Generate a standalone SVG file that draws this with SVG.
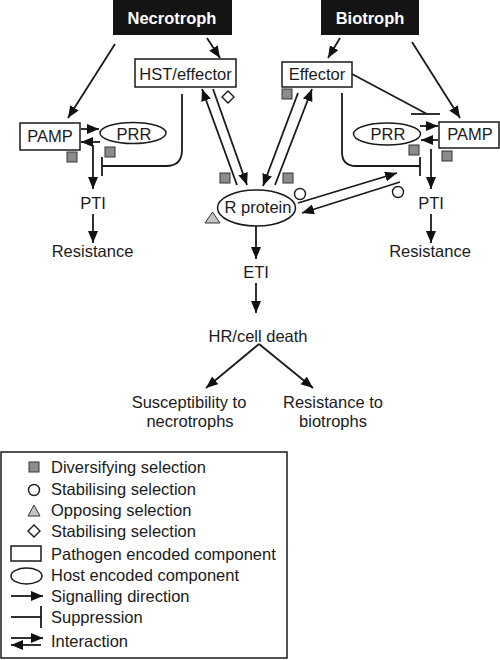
<svg xmlns="http://www.w3.org/2000/svg" width="500" height="660" viewBox="0 0 500 660">
<defs>
<marker id="ah" markerUnits="userSpaceOnUse" markerWidth="13" markerHeight="11" refX="12" refY="5" orient="auto">
<path d="M0,0 L12,5 L0,10 z" fill="#111"/>
</marker>
<style>
text{font-family:"Liberation Sans",Arial,sans-serif;font-size:16.5px;fill:#1a1a1a}
.t{text-anchor:middle}
.hd{font-weight:bold;fill:#fff;text-anchor:middle;font-size:16.5px}
.box{fill:#fff;stroke:#1a1a1a;stroke-width:1.5}
.dark{fill:#141414}
.ln{fill:none;stroke:#1a1a1a;stroke-width:1.8}
.ar{fill:none;stroke:#1a1a1a;stroke-width:1.8;marker-end:url(#ah)}
.sq{fill:#8c8c8c;stroke:#333;stroke-width:1}
.ci{fill:#fff;stroke:#1a1a1a;stroke-width:1.4}
.tr{fill:#c4c4c4;stroke:#333;stroke-width:1}
.lg{text-anchor:start}
</style>
</defs>
<rect width="500" height="660" fill="#fff"/>

<g id="necrotroph"><rect class="dark" x="113" y="0" width="119" height="35"/><text class="hd" x="172" y="24">Necrotroph</text></g>
<g id="biotroph"><rect class="dark" x="321" y="0" width="98" height="35"/><text class="hd" x="370" y="24">Biotroph</text></g>
<g id="hst-effector"><rect class="box" x="135" y="59" width="101" height="28"/><text class="t" x="185.5" y="80">HST/effector</text></g>
<g id="effector"><rect class="box" x="282" y="62" width="70" height="25"/><text class="t" x="317" y="80">Effector</text></g>
<g id="pamp-left"><rect class="box" x="20" y="123" width="60" height="27"/><text class="t" x="50" y="142">PAMP</text></g>
<g id="prr-left"><ellipse class="box" cx="133" cy="133" rx="33" ry="10.5"/><text class="t" x="134" y="140">PRR</text></g>
<g id="prr-right"><ellipse class="box" cx="387" cy="134" rx="33.5" ry="11"/><text class="t" x="388" y="140">PRR</text></g>
<g id="pamp-right"><rect class="box" x="439" y="122" width="60" height="26"/><text class="t" x="470" y="140">PAMP</text></g>
<g id="r-protein"><ellipse class="box" cx="256.5" cy="208" rx="39" ry="18"/><text class="t" x="258" y="213">R protein</text></g>
<g id="pti-left"><text class="t" x="93" y="209">PTI</text></g>
<g id="res-left"><text class="t" x="92.5" y="257">Resistance</text></g>
<g id="pti-right"><text class="t" x="431" y="209">PTI</text></g>
<g id="res-right"><text class="t" x="430" y="257">Resistance</text></g>
<g id="eti"><text class="t" x="256" y="278">ETI</text></g>
<g id="hr"><text class="t" x="258" y="342">HR/cell death</text></g>
<g id="suscept"><text class="t" x="189" y="408">Susceptibility to</text><text class="t" x="190" y="427">necrotrophs</text></g>
<g id="resist-bio"><text class="t" x="333" y="408">Resistance to</text><text class="t" x="333" y="427">biotrophs</text></g>

<g id="connectors">
<path class="ar" d="M115,44 L68,118"/>
<path class="ar" d="M207,38 L220,58"/>
<path class="ar" d="M340,38 L328,58"/>
<path class="ar" d="M412,42 L460,118"/>
<path class="ar" d="M81,129 L99,129"/>
<path class="ar" d="M100,142 L81,142"/>
<path class="ar" d="M93,145 L93,189"/>
<path class="ar" d="M93,214 L93,243"/>
<path class="ln" d="M182,94 L182,150 Q182,166 166,166 L102,166"/>
<path class="ln" d="M102,157 L102,176"/>
<path class="ar" d="M237,185 L202,89"/>
<path class="ar" d="M213,89 L247,185"/>
<path class="ar" d="M298,93 L263,186"/>
<path class="ar" d="M275,185 L312,89"/>
<path class="ln" d="M352,74 L427,114"/>
<path class="ln" d="M411,114 L440,114"/>
<path class="ln" d="M342,93 L342,152 Q342,166 356,166 L420,166"/>
<path class="ln" d="M420,157 L420,176"/>
<path class="ar" d="M420,126 L438,126"/>
<path class="ar" d="M438,140 L421,140"/>
<path class="ar" d="M431,149 L431,189"/>
<path class="ar" d="M431,214 L431,243"/>
<path class="ar" d="M298,203 L397,173"/>
<path class="ar" d="M400,182 L302,213"/>
<path class="ar" d="M256,226 L256,259"/>
<path class="ar" d="M256,283 L256,313"/>
<path class="ar" d="M259,344 L206,388"/>
<path class="ar" d="M259,344 L313,388"/>
</g>

<g id="markers">
<rect class="sq" x="67" y="152" width="10" height="10"/>
<rect class="sq" x="105" y="147" width="10" height="10"/>
<rect class="sq" x="220" y="173" width="10" height="10"/>
<rect class="sq" x="283" y="173" width="10" height="10"/>
<rect class="sq" x="282" y="89" width="10" height="10"/>
<rect class="sq" x="409" y="145" width="10" height="10"/>
<rect class="sq" x="442" y="151" width="10" height="10"/>
<path class="ci" d="M228,91 L234,97 L228,103 L222,97 z"/>
<circle class="ci" cx="300" cy="194" r="5.5"/>
<circle class="ci" cx="398" cy="192" r="5.5"/>
<path class="tr" d="M212.5,212 L220,223 L205,223 z"/>
</g>

<g id="legend">
<rect x="1" y="452" width="286" height="206" fill="#fff" stroke="#1a1a1a" stroke-width="1.5"/>
<rect class="sq" x="29" y="462" width="10" height="10"/>
<text class="lg" x="51" y="473">Diversifying selection</text>
<circle class="ci" cx="34" cy="490" r="5.5"/>
<text class="lg" x="51" y="495">Stabilising selection</text>
<path class="tr" d="M34,505 L40,516 L28,516 z"/>
<text class="lg" x="51" y="516">Opposing selection</text>
<path class="ci" d="M34,525 L40,531 L34,537 L28,531 z"/>
<text class="lg" x="51" y="537">Stabilising selection</text>
<rect class="box" x="11" y="546" width="30" height="15"/>
<text class="lg" x="51" y="560">Pathogen encoded component</text>
<ellipse class="box" cx="26.5" cy="576" rx="15.5" ry="8"/>
<text class="lg" x="51" y="581">Host encoded component</text>
<path class="ar" d="M11,596 L43,596"/>
<text class="lg" x="51" y="602">Signalling direction</text>
<path class="ln" d="M11,617 L41,617"/>
<path class="ln" d="M41,606 L41,628"/>
<text class="lg" x="51" y="623">Suppression</text>
<path class="ar" d="M11,638 L43,638"/>
<path class="ar" d="M41,645 L11,645"/>
<text class="lg" x="51" y="647">Interaction</text>
</g>
</svg>
